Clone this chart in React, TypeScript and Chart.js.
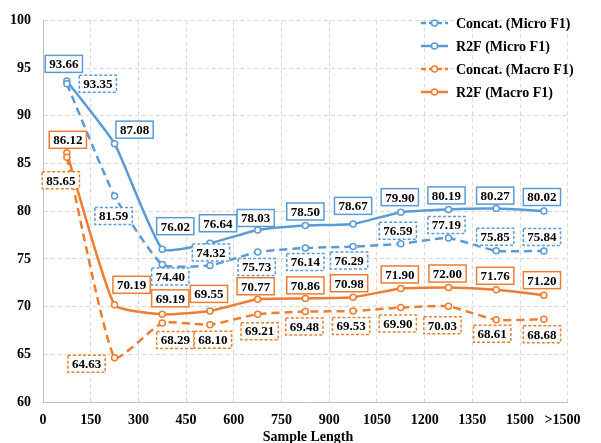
import { useEffect, useRef } from 'react';
import { Chart, registerables } from 'chart.js';
Chart.register(...registerables);

// Sample length bins (midpoints on a 0..1650 linear axis; last bin is ">1500")
const binMid = [75, 225, 375, 525, 675, 825, 975, 1125, 1275, 1425, 1575];
const xTickValues = [0, 150, 300, 450, 600, 750, 900, 1050, 1200, 1350, 1500, 1650];
const xTickLabels = ['0', '150', '300', '450', '600', '750', '900', '1050', '1200', '1350', '1500', '>1500'];
const yTickValues = [60, 65, 70, 75, 80, 85, 90, 95, 100];

const seriesNames = ['Concat. (Micro F1)', 'R2F (Micro F1)', 'Concat. (Macro F1)', 'R2F (Macro F1)'];
const concatMicro = [93.35, 81.59, 74.40, 74.32, 75.73, 76.14, 76.29, 76.59, 77.19, 75.85, 75.84];
const r2fMicro = [93.66, 87.08, 76.02, 76.64, 78.03, 78.50, 78.67, 79.90, 80.19, 80.27, 80.02];
const concatMacro = [85.65, 64.63, 68.29, 68.10, 69.21, 69.48, 69.53, 69.90, 70.03, 68.61, 68.68];
const r2fMacro = [86.12, 70.19, 69.19, 69.55, 70.77, 70.86, 70.98, 71.90, 72.00, 71.76, 71.20];

// label placement offsets (pixels relative to each point)
const concatMicroOffsets = [[31, 0], [-1, 20], [8, 12], [1, -13], [-1, 15], [0, 14], [-4, 14], [-3, -13], [-2, -13], [-1, -14], [-2, -14]];
const r2fMicroOffsets = [[-3, -17], [20, -14], [13, -23], [8, -20], [-2, -12], [0, -14], [0, -18], [-1, -15], [-2, -14], [-1, -13], [-2, -14]];
const concatMacroOffsets = [[-6, 23], [-28, 6], [13, 17], [3, 15], [2, 17], [-1, 15], [-2, 15], [-3, 16], [-6, 19], [-4, 14], [-2, 15]];
const r2fMacroOffsets = [[1, -13], [17, -20], [8, -16], [-1, -17], [-2, -13], [0, -13], [-4, -14], [-1, -14], [-1, -14], [-1, -14], [-2, -15]];

const BLUE = '#5B9BD5';
const ORANGE = '#ED7D31';
const FONT = '"Liberation Serif", "Times New Roman", serif';

const seriesValues = [concatMicro, r2fMicro, concatMacro, r2fMacro];
const seriesOffsets = [concatMicroOffsets, r2fMicroOffsets, concatMacroOffsets, r2fMacroOffsets];
const seriesColors = [BLUE, BLUE, ORANGE, ORANGE];
const seriesDashed = [true, false, true, false];

const labelPlugin = {
  id: 'boxLabels',
  afterDatasetsDraw(chart: any) {
    const ctx = chart.ctx as CanvasRenderingContext2D;
    ctx.save();
    ctx.font = `bold 13px ${FONT}`;
    ctx.textAlign = 'center';
    ctx.textBaseline = 'middle';
    seriesValues.forEach((vals, di) => {
      const meta = chart.getDatasetMeta(di);
      meta.data.forEach((el: any, i: number) => {
        const [dx, dy] = seriesOffsets[di][i];
        const cx = el.x + dx;
        const cy = el.y + dy;
        const text = vals[i].toFixed(2);
        const w = ctx.measureText(text).width + 8;
        const h = 17;
        ctx.setLineDash(seriesDashed[di] ? [3, 2] : []);
        ctx.lineWidth = 1.5;
        ctx.fillStyle = '#fff';
        ctx.strokeStyle = seriesColors[di];
        ctx.fillRect(cx - w / 2, cy - h / 2, w, h);
        ctx.strokeRect(cx - w / 2, cy - h / 2, w, h);
        ctx.setLineDash([]);
        ctx.fillStyle = '#000';
        ctx.fillText(text, cx, cy + 1);
      });
    });
    ctx.restore();
  },
};

const legendPlugin = {
  id: 'insideLegend',
  afterDraw(chart: any) {
    const ctx = chart.ctx as CanvasRenderingContext2D;
    ctx.save();
    const rows = [23, 46, 69, 92];
    seriesNames.forEach((name, i) => {
      const y = rows[i];
      ctx.strokeStyle = seriesColors[i];
      ctx.lineWidth = 2.5;
      ctx.setLineDash(seriesDashed[i] ? [5, 3] : []);
      ctx.beginPath();
      ctx.moveTo(421, y);
      ctx.lineTo(448, y);
      ctx.stroke();
      ctx.setLineDash([]);
      ctx.lineWidth = 1.5;
      ctx.fillStyle = '#fff';
      ctx.beginPath();
      ctx.arc(434.5, y, 3, 0, Math.PI * 2);
      ctx.fill();
      ctx.stroke();
      ctx.fillStyle = '#000';
      ctx.font = `bold 14px ${FONT}`;
      ctx.textAlign = 'left';
      ctx.textBaseline = 'middle';
      ctx.fillText(name, 456, y + 1);
    });
    ctx.font = `bold 14px ${FONT}`;
    ctx.textAlign = 'center';
    ctx.textBaseline = 'alphabetic';
    ctx.fillStyle = '#000';
    ctx.fillText('Sample Length', 308, 441);
    ctx.restore();
  },
};

export default function App() {
  const ref = useRef<HTMLCanvasElement>(null);
  useEffect(() => {
    document.body.style.margin = '0';
    const canvas = ref.current!;
    const tickFont = { family: FONT, size: 14, weight: 'bold' as const };
    const chart = new Chart(canvas, {
      type: 'line',
      data: {
        datasets: seriesValues.map((vals, di) => ({
          label: seriesNames[di],
          data: binMid.map((x, i) => ({ x, y: vals[i] })),
          borderColor: seriesColors[di],
          backgroundColor: '#fff',
          borderWidth: 2.5,
          borderDash: seriesDashed[di] ? [8, 5] : [],
          tension: 0.15,
          pointRadius: 3,
          pointBorderWidth: 1.5,
          pointBackgroundColor: '#fff',
          pointBorderColor: seriesColors[di],
          fill: false,
        })),
      },
      options: {
        responsive: false,
        animation: false,
        layout: { padding: { left: 0, right: 18, top: 12, bottom: 0 } },
        plugins: { legend: { display: false }, tooltip: { enabled: false } },
        scales: {
          x: {
            type: 'linear',
            min: 0,
            max: 1650,
            afterBuildTicks: (s: any) => {
              s.ticks = xTickValues.map((v) => ({ value: v }));
            },
            ticks: {
              color: '#000',
              font: tickFont,
              padding: 10,
              maxRotation: 0,
              autoSkip: false,
              callback: (v: any) => {
                const idx = xTickValues.indexOf(Number(v));
                const lbl = xTickLabels[idx] ?? String(v);
                return idx === xTickValues.length - 1 ? lbl + '   ' : lbl;
              },
            },
            grid: { color: '#d9d9d9', drawTicks: false, lineWidth: 1 },
            border: { display: true, color: '#bfbfbf', dash: [4, 3], width: 1 },
            afterFit: (s: any) => {
              s.height = 41;
            },
          },
          y: {
            min: 60,
            max: 100,
            afterBuildTicks: (s: any) => {
              s.ticks = yTickValues.map((v) => ({ value: v }));
            },
            ticks: { color: '#000', font: tickFont, padding: 12 },
            grid: { color: '#d9d9d9', drawTicks: false, lineWidth: 1 },
            border: { display: true, color: '#bfbfbf', dash: [4, 3], width: 1 },
            afterFit: (s: any) => {
              s.width = 43;
            },
          },
        },
      },
      plugins: [labelPlugin, legendPlugin],
    });
    return () => chart.destroy();
  }, []);
  return <canvas ref={ref} width={601} height={443} style={{ display: 'block', width: 601, height: 443 }} />;
}
